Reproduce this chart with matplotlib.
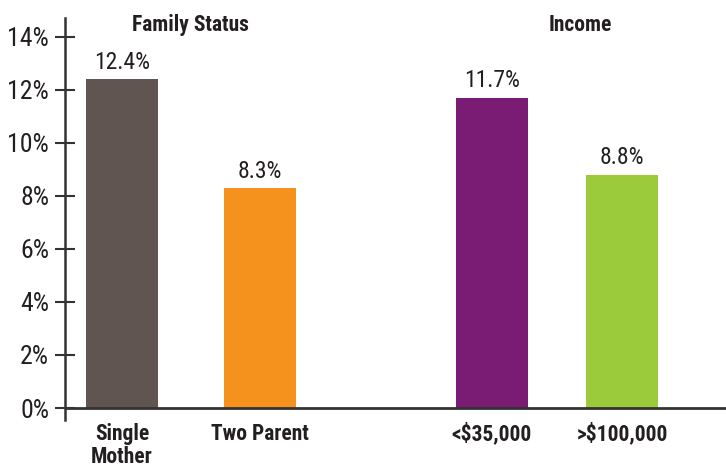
import matplotlib.pyplot as plt
from matplotlib import font_manager

# data
categories = ["Single\nMother", "Two Parent", "<$35,000", ">$100,000"]
values = [12.4, 8.3, 11.7, 8.8]
value_labels = ["12.4%", "8.3%", "11.7%", "8.8%"]
group_titles = ["Family Status", "Income"]
yticks = [0, 2, 4, 6, 8, 10, 12, 14]

colors = ["#605550", "#F5921E", "#7A1C74", "#9BCB3B"]
ink = "#231F20"

# pick a narrow face if one is around, else condensed DejaVu
names = {f.name for f in font_manager.fontManager.ttflist}
fam = "DejaVu Sans"
for cand in ["Roboto Condensed", "Liberation Sans Narrow", "Open Sans Condensed"]:
    if cand in names:
        fam = cand
        break
plt.rcParams['font.family'] = [fam, 'DejaVu Sans']
plt.rcParams['font.stretch'] = 'condensed'

fig = plt.figure(figsize=(7.26, 4.70), dpi=100)
ax = fig.add_axes([65 / 726, 1 - 420 / 470, 1 - 65 / 726, (420 - 18) / 470])

# x positions in pixel-like units from the left axis
xpos = [57, 195, 427, 557]
ax.bar(xpos, values, width=72, color=colors)
for x, v, lab in zip(xpos, values, value_labels):
    ax.text(x, v + 0.2, lab, ha="center", va="bottom", fontsize=17, color=ink)

ax.set_xlim(0, 661)
ax.set_ylim(-0.45, 14.7)
ax.axhline(0, color="#333333", lw=2, zorder=3)

for s in ["top", "right", "bottom"]:
    ax.spines[s].set_visible(False)
ax.spines["left"].set_color("#333333")
ax.spines["left"].set_linewidth(1.8)

ax.set_yticks(yticks)
ax.set_yticklabels([f"{t}%" for t in yticks], fontsize=18.5, color=ink)
ax.tick_params(axis="y", direction="inout", length=15, width=1.5, color="#333333", pad=4)

ax.set_xticks(xpos)
ax.set_xticklabels(categories, fontsize=15.5, color=ink, fontweight="semibold", linespacing=1.1)
ax.tick_params(axis="x", length=0, pad=2)

fig.text(190 / 726, 1 - 25 / 470, group_titles[0], ha="center", va="center",
         fontsize=15.5, fontweight="semibold", color=ink)
fig.text(580 / 726, 1 - 25 / 470, group_titles[1], ha="center", va="center",
         fontsize=15.5, fontweight="semibold", color=ink)

fig.savefig("out.png", dpi=100)
